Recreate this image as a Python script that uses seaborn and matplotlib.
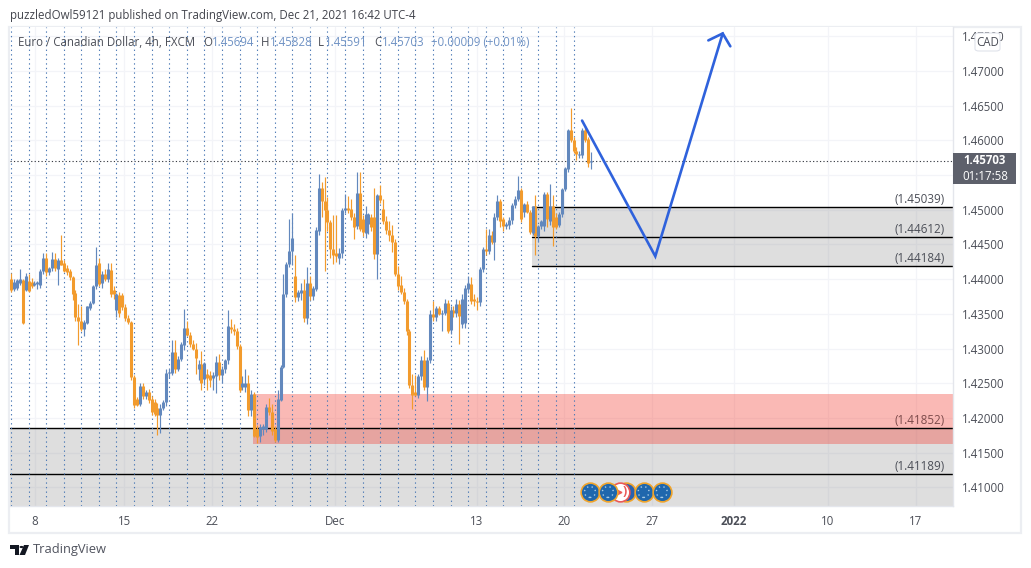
import numpy as np
import pandas as pd
import seaborn as sns
import matplotlib.pyplot as plt
from matplotlib.patches import Rectangle, FancyBboxPatch, Polygon, Circle

# EURCAD 4h candles
opens = [1.4400,1.4386,1.4387,1.4395,1.4399,1.4384,1.4397,1.4396,1.4392,1.4393,
         1.4392,1.4412,1.4431,1.4410,1.4416,1.4429,1.4415,1.4427,1.4424,1.4416,
         1.4412,1.4403,1.4380,1.4346,1.4340,1.4328,1.4337,1.4359,1.4366,1.4390,
         1.4423,1.4394,1.4407,1.4400,1.4413,1.4385,1.4356,1.4377,1.4377,1.4360,
         1.4344,1.4338,1.4259,1.4227,1.4220,1.4246,1.4232,1.4237,1.4227,1.4223,
         1.4215,1.4204,1.4215,1.4223,1.4265,1.4265,1.4295,1.4271,1.4285,1.4305,
         1.4330,1.4319,1.4307,1.4300,1.4270,1.4278,1.4256,1.4264,1.4262,1.4258,
         1.4260,1.4281,1.4262,1.4270,1.4283,1.4331,1.4328,1.4325,1.4304,1.4244,
         1.4244,1.4251,1.4211,1.4235,1.4184,1.4174,1.4184,1.4184,1.4216,1.4208,
         1.4184,1.4169,1.4226,1.4273,1.4379,1.4422,1.4441,1.4405,1.4375,1.4380,
         1.4384,1.4344,1.4394,1.4376,1.4386,1.4470,1.4531,1.4512,1.4499,1.4482,
         1.4443,1.4438,1.4431,1.4438,1.4499,1.4503,1.4501,1.4490,1.4476,1.4524,
         1.4487,1.4467,1.4479,1.4489,1.4489,1.4436,1.4521,1.4501,1.4484,1.4471,
         1.4464,1.4454,1.4408,1.4392,1.4381,1.4368,1.4325,1.4247,1.4237,1.4233,
         1.4260,1.4284,1.4244,1.4283,1.4350,1.4345,1.4358,1.4350,1.4352,1.4366,
         1.4327,1.4356,1.4351,1.4364,1.4336,1.4337,1.4386,1.4393,1.4371,1.4369,
         1.4367,1.4414,1.4443,1.4441,1.4463,1.4454,1.4489,1.4513,1.4487,1.4477,
         1.4478,1.4486,1.4507,1.4516,1.4529,1.4497,1.4508,1.4497,1.4467,1.4505,
         1.4462,1.4476,1.4477,1.4523,1.4484,1.4506,1.4490,1.4478,1.4494,1.4530,
         1.4559,1.4615,1.4601,1.4585,1.4579,1.4579,1.4615,1.4602,1.45694]
highs = [1.4409,1.4400,1.4400,1.4414,1.4400,1.4409,1.4408,1.4402,1.4397,1.4398,
         1.4414,1.4438,1.4438,1.4418,1.4439,1.4438,1.4430,1.4463,1.4428,1.4420,
         1.4415,1.4405,1.4384,1.4364,1.4362,1.4341,1.4362,1.4368,1.4392,1.4447,
         1.4430,1.4412,1.4414,1.4424,1.4424,1.4390,1.4380,1.4381,1.4380,1.4364,
         1.4348,1.4340,1.4262,1.4230,1.4250,1.4250,1.4240,1.4242,1.4232,1.4228,
         1.4222,1.4220,1.4226,1.4270,1.4270,1.4312,1.4312,1.4290,1.4310,1.4357,
         1.4340,1.4324,1.4312,1.4308,1.4284,1.4296,1.4281,1.4270,1.4268,1.4266,
         1.4290,1.4292,1.4275,1.4285,1.4355,1.4343,1.4335,1.4330,1.4306,1.4260,
         1.4270,1.4262,1.4240,1.4238,1.4190,1.4192,1.4192,1.4220,1.4229,1.4220,
         1.4188,1.4241,1.4276,1.4407,1.4425,1.4487,1.4495,1.4435,1.4384,1.4395,
         1.4400,1.4418,1.4405,1.4390,1.4475,1.4551,1.4540,1.4547,1.4518,1.4485,
         1.4492,1.4492,1.4445,1.4502,1.4523,1.4520,1.4516,1.4495,1.4555,1.4554,
         1.4492,1.4506,1.4495,1.4494,1.4532,1.4523,1.4536,1.4516,1.4491,1.4484,
         1.4478,1.4458,1.4419,1.4404,1.4388,1.4372,1.4328,1.4263,1.4262,1.4264,
         1.4290,1.4298,1.4288,1.4356,1.4369,1.4362,1.4362,1.4355,1.4372,1.4370,
         1.4362,1.4362,1.4371,1.4370,1.4378,1.4392,1.4405,1.4403,1.4378,1.4375,
         1.4418,1.4447,1.4472,1.4472,1.4470,1.4495,1.4521,1.4516,1.4490,1.4482,
         1.4490,1.4510,1.4520,1.4548,1.4532,1.4510,1.4512,1.4500,1.4506,1.4521,
         1.4478,1.4486,1.4526,1.4526,1.4537,1.4521,1.4496,1.4497,1.4532,1.4562,
         1.4616,1.4646,1.4605,1.4590,1.4585,1.4618,1.4620,1.4605,1.45828]
lows = [1.4381,1.4383,1.4385,1.4392,1.4336,1.4383,1.4381,1.4388,1.4390,1.4386,
        1.4388,1.4408,1.4405,1.4406,1.4412,1.4412,1.4392,1.4420,1.4410,1.4406,
        1.4399,1.4370,1.4340,1.4305,1.4325,1.4318,1.4335,1.4355,1.4364,1.4386,
        1.4390,1.4388,1.4397,1.4396,1.4375,1.4372,1.4345,1.4345,1.4355,1.4340,
        1.4336,1.4255,1.4215,1.4217,1.4217,1.4228,1.4228,1.4222,1.4204,1.4203,
        1.4176,1.4178,1.4212,1.4218,1.4258,1.4262,1.4265,1.4268,1.4282,1.4298,
        1.4318,1.4303,1.4298,1.4263,1.4255,1.4241,1.4248,1.4240,1.4244,1.4241,
        1.4236,1.4255,1.4250,1.4265,1.4278,1.4322,1.4320,1.4300,1.4238,1.4240,
        1.4238,1.4203,1.4203,1.4172,1.4164,1.4165,1.4176,1.4180,1.4205,1.4175,
        1.4166,1.4165,1.4224,1.4272,1.4375,1.4418,1.4420,1.4367,1.4368,1.4370,
        1.4338,1.4335,1.4370,1.4370,1.4383,1.4463,1.4490,1.4412,1.4470,1.4430,
        1.4422,1.4425,1.4422,1.4430,1.4495,1.4495,1.4485,1.4458,1.4472,1.4470,
        1.4462,1.4460,1.4465,1.4470,1.4429,1.4400,1.4510,1.4480,1.4465,1.4455,
        1.4439,1.4405,1.4385,1.4378,1.4365,1.4320,1.4243,1.4213,1.4232,1.4229,
        1.4255,1.4240,1.4225,1.4280,1.4340,1.4340,1.4348,1.4326,1.4348,1.4323,
        1.4321,1.4345,1.4345,1.4307,1.4330,1.4330,1.4380,1.4365,1.4362,1.4355,
        1.4362,1.4410,1.4435,1.4436,1.4450,1.4427,1.4485,1.4475,1.4470,1.4473,
        1.4473,1.4480,1.4503,1.4512,1.4483,1.4490,1.4495,1.4465,1.4463,1.4435,
        1.4453,1.4472,1.4470,1.4475,1.4478,1.4448,1.4472,1.4475,1.4490,1.4527,
        1.4555,1.4598,1.4582,1.4571,1.4574,1.4575,1.4598,1.4561,1.45591]
closes = [1.4385,1.4396,1.4399,1.4400,1.4337,1.4405,1.4383,1.4390,1.4395,1.4396,
          1.4412,1.4431,1.4410,1.4416,1.4429,1.4416,1.4427,1.4421,1.4412,1.4410,
          1.4403,1.4379,1.4346,1.4340,1.4328,1.4338,1.4361,1.4366,1.4390,1.4421,
          1.4393,1.4407,1.4400,1.4414,1.4378,1.4378,1.4378,1.4352,1.4360,1.4344,
          1.4338,1.4259,1.4219,1.4219,1.4246,1.4232,1.4237,1.4226,1.4208,1.4206,
          1.4204,1.4215,1.4223,1.4265,1.4266,1.4295,1.4271,1.4285,1.4306,1.4330,
          1.4319,1.4306,1.4300,1.4286,1.4278,1.4251,1.4280,1.4257,1.4255,1.4262,
          1.4281,1.4262,1.4270,1.4284,1.4332,1.4328,1.4325,1.4304,1.4241,1.4251,
          1.4251,1.4211,1.4235,1.4174,1.4172,1.4187,1.4188,1.4216,1.4208,1.4181,
          1.4169,1.4227,1.4273,1.4379,1.4422,1.4441,1.4459,1.4375,1.4381,1.4384,
          1.4344,1.4394,1.4376,1.4387,1.4471,1.4531,1.4512,1.4499,1.4482,1.4443,
          1.4435,1.4434,1.4438,1.4500,1.4503,1.4500,1.4490,1.4475,1.4524,1.4472,
          1.4468,1.4494,1.4494,1.4475,1.4437,1.4521,1.4514,1.4484,1.4471,1.4464,
          1.4454,1.4408,1.4390,1.4381,1.4368,1.4325,1.4247,1.4233,1.4233,1.4260,
          1.4284,1.4244,1.4284,1.4350,1.4345,1.4358,1.4350,1.4352,1.4366,1.4326,
          1.4356,1.4351,1.4364,1.4347,1.4371,1.4387,1.4395,1.4369,1.4369,1.4367,
          1.4415,1.4443,1.4441,1.4464,1.4454,1.4490,1.4513,1.4484,1.4477,1.4479,
          1.4486,1.4507,1.4516,1.4529,1.4487,1.4508,1.4497,1.4468,1.4505,1.4462,
          1.4476,1.4484,1.4523,1.4487,1.4505,1.4475,1.4475,1.4494,1.4530,1.4560,
          1.4615,1.4601,1.4584,1.4580,1.4580,1.4615,1.4601,1.4568,1.45703]

# axis values
price_ticks = [1.41, 1.415, 1.42, 1.425, 1.43, 1.435, 1.44, 1.445, 1.45, 1.455, 1.46, 1.465, 1.47, 1.475]
shown_prices = [1.41, 1.415, 1.42, 1.425, 1.43, 1.435, 1.44, 1.445, 1.45, 1.46, 1.465, 1.47, 1.475]
date_pos = [8.2, 38.6, 68.6, 110.6, 159, 188.7, 218.8, 246.8, 278.8, 308.9]
date_labels = ['8', '15', '22', 'Dec', '13', '20', '27', '2022', '10', '17']
session_bars = list(range(0, 193, 6))

# drawings on the chart
upper_levels = [1.45039, 1.44612, 1.44184]
lower_levels = [1.41852, 1.41189]
upper_start = 177.9
red_start = 82.6
red_zone = [1.41631, 1.42347]
path_x = [194.9, 219.9, 242.9]
path_y = [1.46285, 1.44330, 1.47540]
head_x = [238.0, 242.9, 245.5]
head_y = [1.47440, 1.47540, 1.47355]
last_price = 1.45703
eu_events = [197.6, 203.7, 215.9, 222.1]
ca_event = 207.8
ca_back_event = 209.8

W, H = 1031, 568
BLUE = '#6288bd'
ORANGE = '#f29b2d'
GREY_TXT = '#4c4f58'
VAL_BLUE = '#6f92c4'


def fx(x):
    return x / W


def fy(y):
    return 1 - y / H


sns.set_theme(style='white')
plt.rcParams['font.family'] = ['Open Sans', 'DejaVu Sans']

fig = plt.figure(figsize=(W / 100, H / 100), dpi=100)
ax = fig.add_axes([fx(10), fy(506), 943 / W, 479 / H])

# candles: one short vertical line per bar, seaborn does the colours
bars = np.arange(len(opens))
side = ['up' if c >= o else 'down' for o, c in zip(opens, closes)]
wicks = pd.concat([
    pd.DataFrame({'bar': bars, 'price': highs, 'side': side}),
    pd.DataFrame({'bar': bars, 'price': lows, 'side': side}),
])
bodies = pd.concat([
    pd.DataFrame({'bar': bars, 'price': opens, 'side': side}),
    pd.DataFrame({'bar': bars, 'price': closes, 'side': side}),
])
pal = {'up': BLUE, 'down': ORANGE}
sns.lineplot(data=wicks, x='bar', y='price', hue='side', units='bar', estimator=None, palette=pal,
             lw=0.85, legend=False, solid_capstyle='butt', zorder=4, ax=ax)
sns.lineplot(data=bodies, x='bar', y='price', hue='side', units='bar', estimator=None, palette=pal,
             lw=2.2, legend=False, solid_capstyle='butt', zorder=4, ax=ax)

ax.set_xlim(-0.34, 321.5)
ax.set_ylim(1.40733, 1.47633)
ax.set_xlabel('')
ax.set_ylabel('')

# grid
for p in price_ticks:
    ax.axhline(p, color='#f3f4f8', lw=0.9, zorder=0)
for d in date_pos:
    ax.axvline(d, color='#f3f4f8', lw=0.9, zorder=0)

# zones
ax.axhspan(upper_levels[2], upper_levels[0], xmin=(upper_start + 0.34) / 321.84, color='#7d7d7d', alpha=0.25, lw=0, zorder=1)
ax.axhspan(1.40733, lower_levels[0], color='#7d7d7d', alpha=0.25, lw=0, zorder=1)
ax.add_patch(Rectangle((red_start, red_zone[0]), 321.5 - red_start, red_zone[1] - red_zone[0],
                       color='#f44336', alpha=0.37, lw=0, zorder=1.1))
for lv in upper_levels:
    ax.plot([upper_start, 321.5], [lv, lv], color='black', lw=1.0, zorder=2)
for lv in lower_levels:
    ax.axhline(lv, color='black', lw=1.0, zorder=2)

for lv in upper_levels + lower_levels:
    col = '#7d4b4b' if lv == lower_levels[0] else GREY_TXT
    ax.annotate(f'({lv:.5f})', (318.8, lv), xytext=(0, 0.8), textcoords='offset points', ha='right', va='bottom',
                fontsize=8.4, color=col, zorder=6)

# session separators and last price line
for b in session_bars:
    ax.axvline(b, color='#4a78b5', lw=0.8, ls=(0, (1.2, 2.9)), zorder=3)
ax.axhline(last_price, color='#3a3d45', lw=0.8, ls=(0, (1.1, 2.0)), zorder=3)

# forecast drawn by hand on the original
ax.plot(path_x, path_y, color='#2f62dc', lw=1.9, zorder=5, solid_joinstyle='miter')
ax.plot(head_x, head_y, color='#2f62dc', lw=1.9, zorder=5, solid_joinstyle='miter')

# economic calendar badges
ev_y = 1.41 - 0.00065
ax.plot([ca_back_event], [ev_y], 'o', ms=13.5, mfc='#2a62ae', mec='#f0a42b', mew=1.2, zorder=6)
ax.plot([ca_event], [ev_y], 'o', ms=13.5, mfc='white', mec='#ea5a58', mew=1.2, zorder=6.5)
ax.plot([ca_event - 0.3], [ev_y], '>', ms=3.5, color='#ea5a58', zorder=6.6)
ax.text(ca_event + 1.5, ev_y, ')', color='#ea5a58', fontsize=9, fontweight='bold', ha='center', va='center', zorder=6.6)
for e in eu_events:
    ax.plot([e], [ev_y], 'o', ms=13.5, mfc='#1f67ad', mec='#f0a42b', mew=1.2, zorder=7)
    ax.scatter([e], [ev_y], s=62, facecolors='none', edgecolors='#a9cbe4', linewidths=1.0,
               linestyles=(0, (1, 2.4)), zorder=7.1)

# axes
ax.yaxis.tick_right()
ax.set_yticks(shown_prices, [f'{p:.5f}' for p in shown_prices])
ax.set_xticks(date_pos, date_labels)
ax.tick_params(axis='y', length=0, pad=6.5, labelsize=8.3, labelcolor=GREY_TXT)
ax.tick_params(axis='x', length=0, pad=6.5, labelsize=8.3, labelcolor=GREY_TXT)
for t in ax.get_xticklabels():
    if t.get_text() == '2022':
        t.set_fontweight('bold')
    if t.get_text() == 'Dec':
        t.set_fontweight('medium')
for s in ax.spines.values():
    s.set_color('#e4e6ec')
    s.set_linewidth(1)
ax.spines['left'].set_visible(False)
ax.spines['top'].set_visible(False)

# outer card
fig.add_artist(Rectangle((fx(9), fy(533)), 1012 / W, 506 / H, transform=fig.transFigure, fill=False,
                         ec='#eceef2', lw=1.6, zorder=0))

# last price tag
fig.add_artist(Rectangle((fx(953), fy(184)), 63 / W, 31 / H, transform=fig.transFigure, fc='#5d606b', ec='none', zorder=8))
fig.text(fx(985), fy(161), '1.45703', color='white', fontsize=8.3, fontweight='bold', ha='center', va='center', zorder=9)
fig.text(fx(985), fy(176), '01:17:58', color='white', fontsize=8.3, fontweight='medium', ha='center', va='center', zorder=9)

# currency box sits over the top tick label
fig.add_artist(FancyBboxPatch((fx(975), fy(51)), 25 / W, 18 / H, boxstyle='round,pad=0,rounding_size=0.004',
                              transform=fig.transFigure, fc='white', ec='#e0e3eb', lw=0.8, zorder=8))
fig.text(fx(987.5), fy(42.5), 'CAD', color=GREY_TXT, fontsize=8.3, ha='center', va='center', zorder=9)

# header
fig.text(fx(10), fy(15), 'puzzledOwl59121 published on TradingView.com, Dec 21, 2021 16:42 UTC-4',
         color='#43454d', fontsize=8.3, ha='left', va='center')

legend_y = fy(42)
legend_parts = [(18, 'Euro / Canadian Dollar, 4h, FXCM', GREY_TXT), (203, 'O', GREY_TXT), (212, '1.45694', VAL_BLUE),
                (261, 'H', GREY_TXT), (270, '1.45828', VAL_BLUE), (318, 'L', GREY_TXT), (325, '1.45591', VAL_BLUE),
                (374, 'C', GREY_TXT), (382, '1.45703', VAL_BLUE), (431, '+0.00009 (+0.01%)', VAL_BLUE)]
for px, txt, col in legend_parts:
    fig.text(fx(px), legend_y, txt, color=col, fontsize=8.3, ha='left', va='center', zorder=9)

# TradingView mark
logo = '#131722'
fig.add_artist(Polygon([(fx(10), fy(545)), (fx(19), fy(545)), (fx(19), fy(555)), (fx(14.5), fy(555)), (fx(14.5), fy(549)), (fx(10), fy(549))],
                       transform=fig.transFigure, fc=logo, ec='none'))
fig.add_artist(Polygon([(fx(24), fy(545)), (fx(29), fy(545)), (fx(25), fy(555)), (fx(19.5), fy(555))],
                       transform=fig.transFigure, fc=logo, ec='none'))
fig.add_artist(Circle((fx(21.5), fy(547)), 2 / W, transform=fig.transFigure, fc=logo, ec='none'))
fig.text(fx(33), fy(550), 'TradingView', color='#50535e', fontsize=9.3, ha='left', va='center')

fig.savefig('out.png', dpi=100)
